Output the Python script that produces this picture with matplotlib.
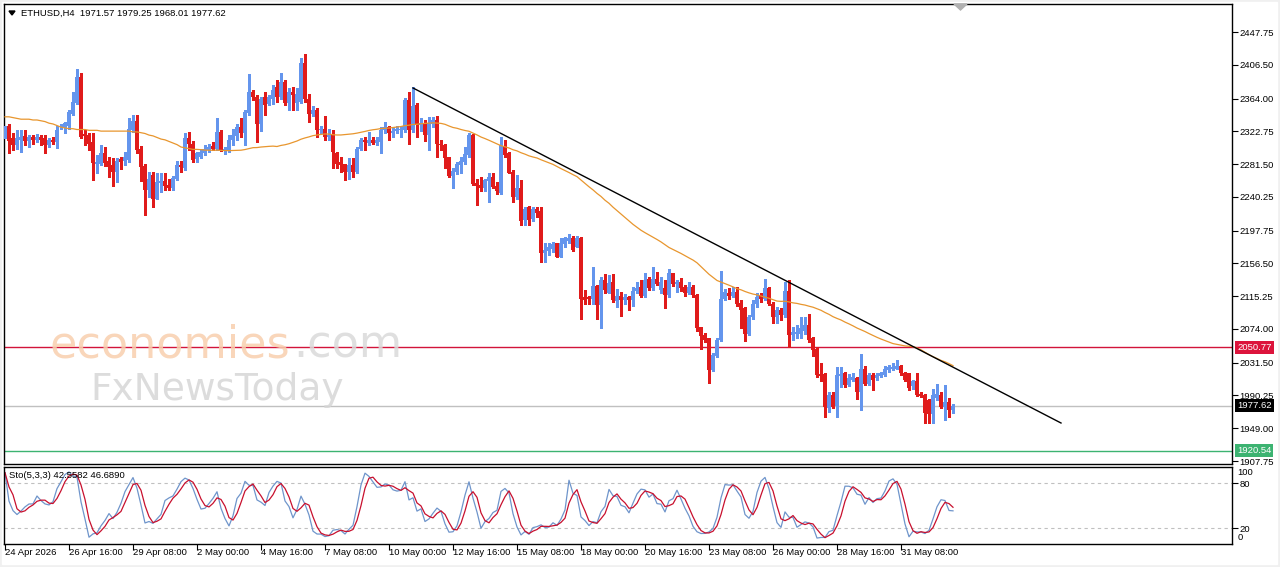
import matplotlib
matplotlib.use("Agg")
import matplotlib.pyplot as plt
import matplotlib.transforms as mtransforms
from matplotlib.patches import Rectangle, Polygon
import numpy as np
import pandas as pd

W, H = 1280, 567

symbol_line = "ETHUSD,H4  1971.57 1979.25 1968.01 1977.62"
sto_line = "Sto(5,3,3) 42.5582 46.6890"

# H4 candles, bar 0 = 24 Apr 2026 00:00
opens = [
    2315, 2329, 2314, 2305, 2312, 2317, 2311, 2315, 2312, 2315,
    2314, 2305, 2312, 2309, 2328, 2328, 2330, 2344, 2359, 2391,
    2319, 2318, 2309, 2282, 2282, 2296, 2286, 2280, 2272, 2288,
    2286, 2287, 2324, 2336, 2300, 2279, 2249, 2268, 2238, 2258,
    2260, 2255, 2251, 2263, 2280, 2276, 2314, 2307, 2288, 2291,
    2295, 2299, 2304, 2300, 2322, 2299, 2299, 2312, 2317, 2328,
    2321, 2346, 2372, 2366, 2332, 2366, 2357, 2364, 2378, 2366,
    2385, 2359, 2372, 2359, 2360, 2409, 2364, 2344, 2350, 2324,
    2326, 2315, 2318, 2295, 2284, 2281, 2272, 2280, 2272, 2301,
    2312, 2308, 2312, 2308, 2309, 2325, 2328, 2320, 2323, 2324,
    2324, 2362, 2324, 2356, 2331, 2333, 2318, 2332, 2337, 2307,
    2305, 2290, 2266, 2272, 2280, 2284, 2293, 2318, 2258, 2255,
    2252, 2260, 2265, 2254, 2245, 2304, 2295, 2272, 2240, 2252,
    2211, 2227, 2213, 2225, 2223, 2169, 2172, 2175, 2182, 2165,
    2181, 2185, 2188, 2177, 2188, 2114, 2114, 2112, 2128, 2104,
    2135, 2119, 2133, 2109, 2115, 2111, 2114, 2111, 2122, 2127,
    2115, 2137, 2125, 2137, 2123, 2125, 2117, 2144, 2131, 2133,
    2127, 2119, 2127, 2117, 2076, 2066, 2062, 2022, 2040, 2060,
    2112, 2119, 2115, 2121, 2107, 2100, 2068, 2089, 2105, 2115,
    2112, 2125, 2106, 2089, 2098, 2091, 2122, 2066, 2068, 2068,
    2072, 2079, 2062, 2049, 2017, 2017, 1974, 1991, 1977, 2015,
    2018, 2003, 2010, 2012, 1995, 2024, 2005, 2016, 2012, 2015,
    2016, 2022, 2023, 2024, 2027, 2019, 2018, 2002, 2009, 1992,
    1991, 1984, 1967, 1987, 1991, 1976, 1982, 1971.57,
]
highs = [
    2330, 2332, 2320, 2325, 2324, 2324, 2318, 2318, 2319, 2318,
    2318, 2314, 2315, 2330, 2332, 2335, 2349, 2372, 2401, 2396,
    2325, 2321, 2321, 2293, 2305, 2303, 2291, 2289, 2289, 2291,
    2297, 2339, 2343, 2343, 2304, 2282, 2272, 2272, 2270, 2270,
    2270, 2263, 2266, 2286, 2286, 2320, 2322, 2310, 2297, 2301,
    2305, 2307, 2309, 2339, 2324, 2303, 2318, 2326, 2332, 2339,
    2349, 2395, 2375, 2368, 2366, 2372, 2368, 2381, 2387, 2396,
    2387, 2377, 2379, 2377, 2415, 2420, 2370, 2354, 2352, 2330,
    2342, 2326, 2324, 2297, 2291, 2282, 2289, 2289, 2303, 2314,
    2315, 2322, 2315, 2316, 2328, 2335, 2329, 2328, 2329, 2330,
    2365, 2372, 2378, 2358, 2339, 2337, 2341, 2341, 2342, 2312,
    2307, 2291, 2276, 2284, 2291, 2303, 2320, 2319, 2263, 2265,
    2263, 2270, 2270, 2259, 2315, 2312, 2297, 2274, 2268, 2261,
    2228, 2229, 2228, 2228, 2227, 2182, 2182, 2184, 2182, 2188,
    2190, 2194, 2191, 2191, 2190, 2123, 2116, 2152, 2129, 2139,
    2143, 2142, 2143, 2124, 2121, 2118, 2116, 2127, 2133, 2135,
    2145, 2139, 2152, 2146, 2140, 2135, 2150, 2145, 2135, 2138,
    2129, 2133, 2129, 2118, 2077, 2069, 2063, 2044, 2062, 2147,
    2124, 2125, 2127, 2127, 2110, 2101, 2091, 2110, 2119, 2119,
    2137, 2127, 2108, 2102, 2100, 2133, 2135, 2077, 2079, 2089,
    2089, 2093, 2064, 2051, 2031, 2018, 1994, 1994, 2026, 2026,
    2020, 2017, 2018, 2014, 2043, 2027, 2019, 2018, 2019, 2020,
    2027, 2029, 2031, 2035, 2028, 2020, 2019, 2010, 2018, 1995,
    1992, 1986, 1999, 2005, 1994, 2003, 1987, 1979.25,
]
lows = [
    2314, 2296, 2299, 2300, 2297, 2305, 2303, 2307, 2309, 2305,
    2296, 2303, 2307, 2302, 2326, 2321, 2326, 2343, 2357, 2314,
    2305, 2299, 2262, 2270, 2280, 2279, 2265, 2254, 2259, 2275,
    2280, 2284, 2322, 2295, 2260, 2217, 2240, 2228, 2237, 2246,
    2249, 2249, 2249, 2261, 2272, 2274, 2299, 2284, 2284, 2289,
    2293, 2297, 2299, 2299, 2298, 2294, 2297, 2305, 2312, 2316,
    2305, 2343, 2362, 2309, 2323, 2343, 2356, 2357, 2360, 2364,
    2356, 2349, 2350, 2349, 2358, 2360, 2335, 2342, 2315, 2321,
    2312, 2312, 2276, 2276, 2272, 2262, 2263, 2265, 2270, 2299,
    2299, 2305, 2307, 2305, 2296, 2321, 2312, 2316, 2321, 2315,
    2322, 2307, 2322, 2315, 2323, 2311, 2299, 2328, 2291, 2299,
    2276, 2265, 2252, 2269, 2270, 2282, 2291, 2255, 2230, 2247,
    2247, 2234, 2251, 2244, 2244, 2291, 2270, 2234, 2238, 2205,
    2205, 2205, 2210, 2215, 2158, 2158, 2167, 2171, 2164, 2164,
    2177, 2182, 2172, 2177, 2087, 2106, 2106, 2106, 2086, 2075,
    2119, 2119, 2108, 2102, 2090, 2106, 2098, 2103, 2119, 2114,
    2114, 2123, 2123, 2129, 2119, 2100, 2114, 2128, 2121, 2122,
    2115, 2118, 2114, 2072, 2049, 2058, 2006, 2021, 2039, 2059,
    2110, 2112, 2114, 2103, 2075, 2059, 2066, 2087, 2102, 2108,
    2110, 2104, 2081, 2081, 2085, 2089, 2051, 2060, 2062, 2062,
    2068, 2058, 2040, 2014, 2008, 1963, 1970, 1974, 1963, 2001,
    2001, 2002, 2009, 1986, 1972, 2004, 2003, 1997, 2010, 2014,
    2015, 2020, 2022, 2023, 2016, 2009, 1997, 1999, 1989, 1988,
    1955, 1955, 1955, 1984, 1974, 1959, 1963, 1968.01,
]
closes = [
    2329, 2310, 2305, 2314, 2315, 2311, 2315, 2312, 2316, 2312,
    2305, 2312, 2309, 2325, 2330, 2333, 2347, 2360, 2391, 2316,
    2317, 2307, 2283, 2284, 2296, 2283, 2278, 2272, 2286, 2284,
    2290, 2326, 2336, 2299, 2278, 2249, 2263, 2238, 2259, 2260,
    2254, 2251, 2264, 2280, 2278, 2314, 2307, 2287, 2295, 2297,
    2301, 2303, 2301, 2322, 2299, 2301, 2312, 2318, 2328, 2321,
    2347, 2372, 2366, 2332, 2364, 2356, 2366, 2375, 2366, 2385,
    2359, 2372, 2368, 2370, 2409, 2363, 2344, 2350, 2324, 2326,
    2315, 2318, 2297, 2282, 2280, 2272, 2280, 2272, 2301, 2312,
    2309, 2312, 2308, 2312, 2325, 2328, 2320, 2323, 2326, 2326,
    2362, 2324, 2354, 2331, 2333, 2318, 2333, 2337, 2307, 2305,
    2289, 2266, 2273, 2282, 2286, 2294, 2318, 2257, 2254, 2252,
    2261, 2265, 2253, 2248, 2305, 2293, 2270, 2240, 2252, 2210,
    2225, 2211, 2225, 2220, 2169, 2173, 2177, 2181, 2165, 2182,
    2188, 2188, 2173, 2188, 2112, 2111, 2112, 2128, 2104, 2135,
    2123, 2132, 2110, 2115, 2110, 2114, 2110, 2122, 2125, 2115,
    2136, 2125, 2137, 2131, 2133, 2117, 2144, 2130, 2133, 2125,
    2119, 2127, 2117, 2075, 2065, 2060, 2022, 2041, 2060, 2112,
    2121, 2115, 2121, 2106, 2098, 2068, 2089, 2106, 2114, 2112,
    2125, 2106, 2089, 2098, 2091, 2122, 2066, 2070, 2070, 2075,
    2079, 2060, 2047, 2016, 2015, 1976, 1991, 1976, 2016, 2017,
    2003, 2012, 2013, 1995, 2024, 2005, 2016, 2010, 2016, 2018,
    2023, 2026, 2026, 2027, 2018, 2010, 2000, 2009, 1991, 1990,
    1968, 1967, 1991, 1992, 1976, 1982, 1972, 1977.62,
]

# orange MA values for the bars that lack 50 bars of history
ma_head = [
    2341, 2341, 2340, 2339, 2338, 2338, 2338, 2337, 2337, 2336,
    2335, 2333, 2332, 2330, 2328, 2327, 2326, 2326, 2325, 2325,
    2325, 2324, 2324, 2324, 2323, 2323, 2323, 2323, 2323, 2323,
    2323, 2323, 2322, 2322, 2321, 2320, 2318, 2317, 2315, 2313,
    2312, 2310, 2308, 2306, 2303, 2302, 2301, 2300, 2300,
]
ma_period = 50

price_ticks = [2447.75, 2406.50, 2364.00, 2322.75, 2281.50, 2240.25, 2197.75,
               2156.50, 2115.25, 2074.00, 2031.50, 1990.25, 1949.00, 1907.75]
date_bars = [0, 16, 32, 48, 64, 80, 96, 112, 128, 144, 160, 176, 192, 208, 224]
date_labels = ["24 Apr 2026", "26 Apr 16:00", "29 Apr 08:00", "2 May 00:00",
               "4 May 16:00", "7 May 08:00", "10 May 00:00", "12 May 16:00",
               "15 May 08:00", "18 May 00:00", "20 May 16:00", "23 May 08:00",
               "26 May 00:00", "28 May 16:00", "31 May 08:00"]

trend_bars = [102, 264]
trend_prices = [2377.3, 1955.6]

level_red = 2050.77
level_bid = 1977.62
level_green = 1920.54

# ------------------------------------------------------------------
plt.rcParams['font.family'] = ['Liberation Sans', 'DejaVu Sans']
FS = 6.8
BULL = '#6495ED'
BEAR = '#E01B1B'


def fx(px):
    return px / W


def fy(py):
    return 1 - py / H


fig = plt.figure(figsize=(W / 100, H / 100), dpi=100, facecolor='#F0F0F0')
fig.patches.append(Rectangle((fx(2), fy(564)), (1277 - 2) / W, (564 - 2) / H,
                             transform=fig.transFigure, color='white', zorder=-5))

ax = fig.add_axes([fx(4), fy(464), (1232 - 4) / W, (464 - 4) / H])
ax2 = fig.add_axes([fx(4), fy(544), (1232 - 4) / W, (544 - 466.5) / H])

o = np.array(opens, float)
h = np.array(highs, float)
l = np.array(lows, float)
c = np.array(closes, float)
x = np.arange(len(c))
cols = np.where(c >= o, BULL, BEAR)

# candles (crisp, like the terminal draws them)
ax.vlines(x, l, h, colors=cols, linewidth=1.0, zorder=3, antialiased=False)
body_lo = np.minimum(o, c)
body_h = np.maximum(np.abs(c - o), 1.0)
ax.bar(x, body_h, bottom=body_lo, width=0.8, color=cols, linewidth=0,
       zorder=4, antialiased=False)

# moving average
ma = pd.Series(c).rolling(ma_period).mean().to_numpy()
ma[:len(ma_head)] = ma_head
ax.plot(x, ma, color='#E8962E', lw=0.9, zorder=5)

# trend line and levels
ax.plot(trend_bars, trend_prices, color='black', lw=1.0, zorder=6)
ax.axhline(level_red, color='#D2143A', lw=1.0, zorder=2)
ax.axhline(level_bid, color='#C0C0C0', lw=1.0, zorder=2)
ax.axhline(level_green, color='#3CB371', lw=1.0, zorder=2)

ax.set_xlim(-0.25, 306.75)
ax.set_ylim(1904.0, 2483.0)
ax.yaxis.tick_right()
ax.set_yticks(price_ticks)
ax.set_yticklabels([f"{v:.2f}" for v in price_ticks])
ax.tick_params(axis='y', direction='out', length=4, width=0.8, pad=1.5,
               labelsize=FS, right=True, left=False)
ax.tick_params(axis='x', bottom=False, labelbottom=False)
for s in ax.spines.values():
    s.set_color('black')
    s.set_linewidth(1.0)

ytrans = mtransforms.blended_transform_factory(ax.transAxes, ax.transData)
for lv, fc in [(level_red, '#DC143C'), (level_bid, '#000000'), (level_green, '#3CB371')]:
    ax.text(1.0042, lv, f"{lv:.2f}", transform=ytrans, ha='left', va='center',
            color='white', fontsize=FS, zorder=10, clip_on=False,
            bbox=dict(boxstyle='square,pad=0.2', fc=fc, ec='none'))

# watermark
fig.text(fx(50), fy(358), "economies", fontsize=32, color='#F8CFAE',
         alpha=0.85, family='DejaVu Sans', va='baseline', zorder=20)
fig.text(fx(293), fy(358), ".com", fontsize=32, color='#DADADA',
         alpha=0.85, family='DejaVu Sans', va='baseline', zorder=20)
fig.text(fx(90), fy(400), "FxNewsToday", fontsize=27, color='#D6D6D6',
         alpha=0.85, family='DejaVu Sans', va='baseline', zorder=20)

# stochastic 5,3,3
cs, hs, ls = pd.Series(c), pd.Series(h), pd.Series(l)
ll5 = ls.rolling(5, min_periods=1).min()
hh5 = hs.rolling(5, min_periods=1).max()
num = (cs - ll5).rolling(3, min_periods=1).sum()
den = (hh5 - ll5).rolling(3, min_periods=1).sum()
k = 100 * num / den
d = k.rolling(3, min_periods=1).mean()

ax2.axhline(80, color='#C0C0C0', lw=0.8, ls=(0, (3, 3)))
ax2.axhline(20, color='#C0C0C0', lw=0.8, ls=(0, (3, 3)))
ax2.plot(x, k, color='#6F95CB', lw=0.9)
ax2.plot(x, d, color='#C8102E', lw=0.9)
ax2.set_xlim(-0.25, 306.75)
ax2.set_ylim(-1.33, 102)
ax2.yaxis.tick_right()
ax2.set_yticks([80, 20])
ax2.set_yticklabels(["80", "20"])
ax2.tick_params(axis='y', direction='out', length=4, width=0.8, pad=1.5,
                labelsize=FS, right=True, left=False)
ax2.text(1.0042, 93.5, "100", transform=ax2.get_yaxis_transform(), ha='left',
         va='center', fontsize=FS)
ax2.text(1.0042, 8, "0", transform=ax2.get_yaxis_transform(), ha='left',
         va='center', fontsize=FS)
ax2.set_xticks(date_bars)
ax2.set_xticklabels([""] * len(date_bars))
ax2.tick_params(axis='x', direction='out', length=4, width=0.8)
for s in ax2.spines.values():
    s.set_color('black')
    s.set_linewidth(1.0)

xtrans = mtransforms.blended_transform_factory(ax2.transData, ax2.transAxes)
for b, lab in zip(date_bars, date_labels):
    ax2.text(b, -0.116, lab, transform=xtrans, ha='left', va='center',
             fontsize=FS, clip_on=False)

# header texts
fig.text(fx(21), fy(13), symbol_line, fontsize=FS, va='center')
fig.patches.append(Polygon([[fx(9), fy(11)], [fx(15), fy(11)], [fx(12), fy(15)]],
                           closed=True, transform=fig.transFigure, color='black'))
fig.text(fx(9), fy(476), sto_line, fontsize=FS, va='center')
fig.patches.append(Polygon([[fx(954), fy(4)], [fx(967), fy(4)], [fx(960.5), fy(10)]],
                           closed=True, transform=fig.transFigure, color='#B0B0B0',
                           zorder=15))

fig.savefig("out.png", dpi=100, facecolor=fig.get_facecolor())
